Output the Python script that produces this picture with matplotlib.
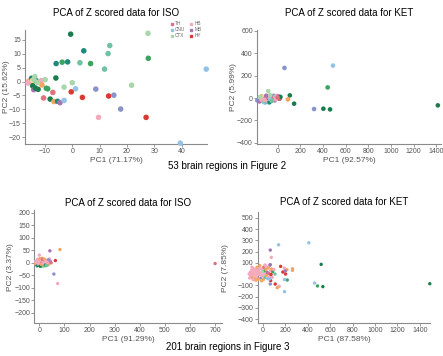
import matplotlib
matplotlib.use("Agg")
from matplotlib import pyplot as plt
from matplotlib.lines import Line2D

plt.rcParams['font.family'] = ['Liberation Sans', 'DejaVu Sans']

# colour keys used by the points
pal = {
    'dg': '#1b7d4c', 'tl': '#1f8a7c', 'gr': '#3aa55f', 'mt': '#6fc2a2',
    'sg': '#a9d6ab', 'lb': '#92c3e6', 'lv': '#8a92cb', 'rd': '#d83a31',
    'rs': '#e2707e', 'pk': '#f4a9bd', 'or': '#f3a562', 'pu': '#a574b5',
    'yl': '#ece48a',
}

# ISO, 53 regions
iso53_x = [-0.6, 27.7, 13.7, 4.2, 13.1, 27.8, -5.9, -3.7, -1.7, 2.8, 6.7, 11.8, 49, -6.0,
           0, 21.7, -3.0, 1.2, -0.4, 8.6, -7.1, 3.7, 13.3, 15.2, -10.5, -8.1, -6.7, -5.4,
           -4.5, -3.0, 17.7, 9.6, 27.0, 39.5,
           -15.9, -14.9, -15.3, -13.7, -14.5, -13.9, -13.3, -14.5, -14.1, -13.5, -12.5,
           -11.3, -11.1, -9.9, -9.5, -9.0, -14.0, -16.2, -12.8]
iso53_y = [17.1, 17.4, 13.0, 11.1, 10.1, 8.4, 6.5, 7.0, 7.1, 6.8, 6.5, 4.5, 4.5, 1.3,
           -0.4, -1.3, -2.0, -2.6, -3.7, -2.7, -3.9, -5.7, -5.2, -4.9, -5.9, -6.3, -7.2, -7.1,
           -7.6, -6.8, -9.9, -12.9, -12.9, -22.2,
           0.1, 1.2, -0.2, 1.8, 0.4, 0.2, 0.4, -1.5, -2.9, -2.3, -2.8,
           0.4, -1.2, 0.7, -2.4, -2.6, 0.8, -0.5, -0.3]
iso53_c = ['dg', 'sg', 'mt', 'tl', 'mt', 'gr', 'tl', 'gr', 'tl', 'mt', 'gr', 'mt', 'lb', 'dg',
           'sg', 'sg', 'sg', 'lb', 'rd', 'lv', 'rs', 'rd', 'rd', 'lv', 'rs', 'dg', 'or', 'tl',
           'pu', 'lb', 'lv', 'pk', 'rd', 'lb',
           'or', 'tl', 'pk', 'sg', 'yl', 'yl', 'tl', 'dg', 'pu', 'dg', 'dg',
           'pk', 'or', 'sg', 'gr', 'gr', 'sg', 'pk', 'sg']

# KET, 53 regions
ket53_x = [61, 489, 442, 108, 322, 404, 463, 146, 1414, 91, 15, -82, -179,
           -170, -160, -150, -140, -130, -120, -110, -100, -90, -80, -75, -70, -60, -55,
           -45, -40, -35, -30, -25, -20, -10, -5, 5, 10, 20, 25, -130, -120, -110, -95,
           -85, -65, -50, -15, -100, -145, -155, -65, 0, -115]
ket53_y = [269, 290, 95, 24, -98, -95, -101, -50, -65, -12, -6, 62, -21,
           -20, -30, 5, 15, -25, -35, -40, -30, -20, -5, -40, -35, 10, 15,
           0, -15, 20, 5, -20, 10, 15, 20, 0, 15, -5, 10, 0, 10, 0, 5,
           15, -10, -25, -10, 20, -10, 10, 25, 5, -15]
ket53_c = ['lv', 'lb', 'gr', 'dg', 'lv', 'dg', 'dg', 'dg', 'dg', 'or', 'dg', 'sg', 'lv',
           'lv', 'pu', 'yl', 'or', 'pk', 'mt', 'lb', 'mt', 'pk', 'pk', 'mt', 'tl', 'pu', 'rs',
           'rd', 'pk', 'lv', 'rs', 'pu', 'pk', 'lb', 'pk', 'pk', 'lv', 'rs', 'dg', 'sg', 'yl', 'or', 'rd',
           'pk', 'lb', 'mt', 'pk', 'pu', 'pk', 'sg', 'sg', 'rs', 'pk']

# ISO, 201 regions
iso201_x = [700, 42, 82, 64, 58, 73, 40, 0,
            -15, -12, -10, -8, -6, -5, -3, -2, 0, 1, 2, 3, 4, 5, 6, 7, 8, 9, 10, 11, 12, 13,
            14, 15, 16, 17, 18, 19, 20, 21, 22, 24, 25, 27, 28, 30, 32, 34, 36, 38, -14, -11,
            -9, -7, -4, -1, 2, 4, 7, 9, 12, 14, 17, 20, 23, 26, 29, 33, 44, 47]
iso201_y = [-3, 48, 53, 9, -45, -83, 15, 31,
            5, -3, 8, -6, 2, 12, -10, 5, -2, 10, -8, 3, 15, -5, 6, -12, 0, 9, -3, 18, -9, 4,
            -15, 8, -4, 12, -10, 2, -6, 6, -13, 0, 10, -5, 3, -2, 8, -8, 12, -3, -5, 2,
            -12, 14, -4, 7, 16, -14, 11, -7, 14, -2, -1, 15, -9, 5, -11, 1, 6, 0]
iso201_c = ['rs', 'pu', 'or', 'rd', 'lv', 'pk', 'pk', 'pk',
            'pk', 'pk', 'pk', 'or', 'pk', 'pk', 'dg', 'or', 'pk', 'rs', 'gr', 'pk', 'or', 'mt', 'pk', 'gr', 'rs', 'or', 'pk', 'or', 'mt', 'rd',
            'sg', 'pk', 'or', 'rs', 'gr', 'pk', 'mt', 'or', 'sg', 'rd', 'pk', 'or', 'lv', 'rs', 'pk', 'mt', 'lv', 'or', 'or', 'pk',
            'tl', 'pk', 'pk', 'pk', 'or', 'dg', 'pk', 'or', 'rs', 'pk', 'pk', 'or', 'gr', 'pk', 'mt', 'pk', 'lv', 'rs']

# KET, 201 regions
ket201_x = [1488, 521, 411, 142, 68, 462, 488, 536, 195, 148, 130, 219, 195, 160, 180, 204,
            192, 216, 266, 266, 201, 112, 71, 68, 77, 68, 9,
            -120, -110, -105, -100, -95, -90, -85, -80, -75, -70, -65, -60, -55, -50, -45, -40,
            -35, -30, -25, -20, -15, -10, -5, 0, 5, 10, 15, 20, 25, 30, 35, 40, 45, 50, 55, 60,
            65, 70, 75, 80, 85, 90, 100, 110, -115, -95, -60, -30, 0, 20, -85, -50, -10, 30, 60]
ket201_y = [-86, 86, 278, 260, 213, -80, -106, -112, -157, -109, -121, -53, -50, 68, 18, 0,
            53, 38, 33, 47, 27, -89, -59, -89, 148, 83, 24,
            0, 15, -15, 30, -30, 5, 50, -10, 20, -40, 40, 0, -25, 60, 15, -45,
            30, -5, 75, 10, -35, 45, -15, 20, -50, 60, 0, -30, 35, 70, -10, 15, -40, 55, 5, -25,
            80, 30, -5, 45, -30, 20, 40, 0, -35, 60, -55, 50, -20, 80, -50, 35, -60, 40, -45]
ket201_c = ['dg', 'dg', 'lb', 'lb', 'pu', 'lb', 'gr', 'dg', 'lb', 'pk', 'or', 'gr', 'lb', 'rd', 'rd', 'rd',
            'pk', 'or', 'or', 'or', 'pu', 'rd', 'rd', 'lv', 'pk', 'pu', 'gr',
            'pk', 'pk', 'pk', 'pk', 'or', 'pk', 'pk', 'pk', 'pk', 'or', 'pk', 'pk', 'pk', 'or', 'pk', 'or',
            'pk', 'pk', 'or', 'pk', 'lv', 'pk', 'pk', 'sg', 'or', 'rs', 'pk', 'mt', 'gr', 'pk', 'or', 'pu', 'lb', 'or', 'rs', 'pk',
            'pu', 'pk', 'rd', 'or', 'pk', 'gr', 'pk', 'mt', 'pk', 'pk', 'or', 'pk', 'pk', 'pk', 'pk', 'pk', 'or', 'or', 'lb']

legend_names = ['TH', 'CNU', 'CTX', 'HB', 'MB', 'HY']
legend_keys = ['rs', 'lb', 'sg', 'pk', 'pu', 'rd']

fig = plt.figure(figsize=(4.43, 3.56), dpi=100)

def panel(rect, xs, ys, cs, size, title, xlab, ylab, xlim, ylim, xticks, yticks, ylab_x, tpad):
    ax = fig.add_axes(rect)
    ax.scatter(xs, ys, c=[pal[k] for k in cs], s=size, linewidths=0, clip_on=False, zorder=3)
    ax.set_xlim(xlim)
    ax.set_ylim(ylim)
    ax.set_xticks(xticks)
    ax.set_yticks(yticks)
    for s in ['top', 'right']:
        ax.spines[s].set_visible(False)
    for s in ['left', 'bottom']:
        ax.spines[s].set_color('#8a8a8a')
        ax.spines[s].set_linewidth(0.8)
    ax.tick_params(labelsize=5, colors='#8a8a8a', labelcolor='#555555', length=2, width=0.6, pad=1)
    ax.set_title(title, fontsize=7, pad=tpad)
    ax.set_xlabel(xlab, fontsize=6, color='#555555', labelpad=1)
    ax.set_ylabel(ylab, fontsize=6, color='#555555')
    ax.yaxis.set_label_coords(ylab_x, 0.5)
    return ax

ax1 = panel([0.0564, 0.5955, 0.411, 0.321], iso53_x, iso53_y, iso53_c, 16,
            "PCA of Z scored data for ISO", "PC1 (71.17%)", "PC2 (15.62%)",
            (-17.3, 49.3), (-22.5, 18.7), [-10, 0, 10, 20, 30, 40], [-20, -15, -10, -5, 0, 5, 10, 15],
            -0.085, 10)
ax2 = panel([0.580, 0.5955, 0.415, 0.321], ket53_x, ket53_y, ket53_c, 11,
            "PCA of Z scored data for KET", "PC1 (92.57%)", "PC2 (5.99%)",
            (-182, 1440), (-410, 610), [0, 200, 400, 600, 800, 1000, 1200, 1400],
            [-400, -200, 0, 200, 400, 600], -0.11, 10)
ax3 = panel([0.0774, 0.0919, 0.424, 0.318], iso201_x, iso201_y, iso201_c, 6,
            "PCA of Z scored data for ISO", "PC1 (91.29%)", "PC2 (3.37%)",
            (-20, 728), (-242, 211), [0, 100, 200, 300, 400, 500, 600, 700],
            [-200, -150, -100, -50, 0, 50, 100, 150, 200], -0.11, 3)
ax4 = panel([0.5817, 0.0919, 0.389, 0.313], ket201_x, ket201_y, ket201_c, 6,
            "PCA of Z scored data for KET", "PC1 (87.58%)", "PC2 (7.85%)",
            (-44, 1490), (-438, 553), [0, 200, 400, 600, 800, 1000, 1200, 1400],
            [-400, -300, -200, -100, 0, 100, 200, 300, 400, 500], -0.165, 5)

handles = [Line2D([], [], marker='s', ls='none', color=pal[k], markersize=1.8) for k in legend_keys]
fig.legend(handles, legend_names, ncol=2, loc='upper right', bbox_to_anchor=(0.455, 0.94),
           fontsize=3.4, frameon=False, handlelength=0.8, handletextpad=0.3,
           columnspacing=0.8, labelspacing=0.2, labelcolor='#666666',
           borderpad=0, borderaxespad=0)

fig.text(0.512, 0.534, "53 brain regions in Figure 2", ha='center', va='center', fontsize=7)
fig.text(0.513, 0.026, "201 brain regions in Figure 3", ha='center', va='center', fontsize=7)

plt.savefig("out.png", dpi=100)
